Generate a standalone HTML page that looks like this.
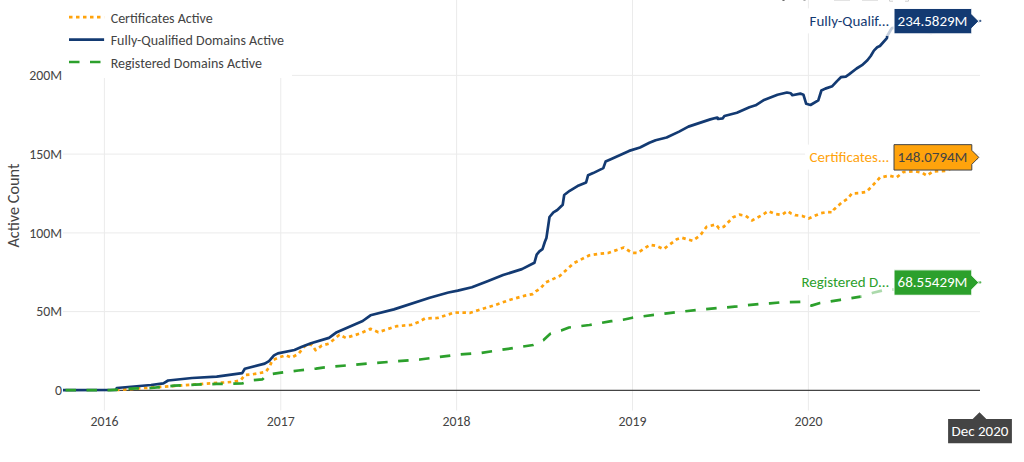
<!DOCTYPE html>
<html><head><meta charset="utf-8"><title>Active Count</title>
<style>html,body{margin:0;padding:0;background:#fff;overflow:hidden}svg{display:block}</style>
</head><body>
<svg width="1024" height="462" viewBox="0 0 1024 462">
<rect width="1024" height="462" fill="#fff"/>
<line x1="104.4" y1="0" x2="104.4" y2="410.5" stroke="#ebebeb" stroke-width="1"/>
<line x1="280.76" y1="0" x2="280.76" y2="410.5" stroke="#ebebeb" stroke-width="1"/>
<line x1="456.6" y1="0" x2="456.6" y2="410.5" stroke="#ebebeb" stroke-width="1"/>
<line x1="632.5" y1="0" x2="632.5" y2="410.5" stroke="#ebebeb" stroke-width="1"/>
<line x1="808.4" y1="0" x2="808.4" y2="410.5" stroke="#ebebeb" stroke-width="1"/>
<line x1="63" y1="311.6" x2="980" y2="311.6" stroke="#ebebeb" stroke-width="1"/>
<line x1="63" y1="232.9" x2="980" y2="232.9" stroke="#ebebeb" stroke-width="1"/>
<line x1="63" y1="154.1" x2="980" y2="154.1" stroke="#ebebeb" stroke-width="1"/>
<line x1="63" y1="75.4" x2="980" y2="75.4" stroke="#ebebeb" stroke-width="1"/>
<line x1="63" y1="390.3" x2="980" y2="390.3" stroke="#444" stroke-width="1.2"/>
<rect x="63" y="0" width="229" height="78" fill="#fff"/>
<rect x="805.5" y="8.4" width="88.5" height="25" fill="#fff"/>
<rect x="805.1" y="144.6" width="88.9" height="25" fill="#fff"/>
<rect x="797.0" y="269.9" width="97.0" height="25" fill="#fff"/>
<polyline points="116.0,390.0 119.6,389.8 144.2,388.0 164.7,386.7 192.1,384.6 233.1,381.9 240.7,380.3 244.8,375.0 251.8,374.4 258.8,373.2 265.9,371.8 269.7,366.5 272.3,360.3 278.8,357.5 285.7,355.2 291.5,357.6 298.4,353.9 302.3,349.0 307.1,343.7 312.0,345.1 315.6,350.2 321.8,345.6 329.0,343.6 339.4,334.8 345.8,337.9 360.1,333.5 370.5,328.8 378.3,332.2 396.5,326.2 410.8,325.0 418.8,321.9 425.0,318.4 437.5,318.0 454.7,312.5 470.3,312.8 478.1,310.2 493.8,305.5 509.4,300.0 525.0,295.6 532.8,294.1 536.2,291.1 540.6,288.3 545.6,282.5 548.4,281.2 560.0,275.8 562.8,273.1 573.8,263.1 589.4,255.3 598.8,253.8 608.1,253.0 623.8,247.5 632.0,252.8 637.5,253.0 650.0,244.8 656.6,245.9 663.6,249.1 676.9,239.2 681.6,237.7 692.5,240.8 700.3,235.3 706.6,226.7 715.9,224.4 719.0,228.3 723.8,226.7 733.1,217.3 739.4,214.7 745.6,215.8 751.9,220.5 762.8,214.7 768.3,211.1 774.9,213.9 781.7,214.9 787.6,211.0 791.0,213.4 795.4,215.2 802.2,215.9 808.6,218.5 814.4,215.9 820.8,213.2 827.1,212.0 833.0,212.3 834.0,209.5 836.9,206.8 841.8,202.5 847.6,198.8 852.0,193.4 858.9,193.1 866.2,192.0 870.6,187.7 880.0,177.5 889.4,175.6 896.4,177.5 903.4,172.0 914.4,171.2 922.2,172.8 926.9,175.7 932.7,171.6 945.6,170.8 979.5,157.1" fill="none" stroke="#ffa30c" stroke-width="2.7" stroke-dasharray="3.5 3.5" stroke-linejoin="round"/>
<polyline points="63.0,390.2 116.2,389.8 116.8,388.0 151.0,385.0 163.4,383.3 168.1,380.5 192.1,378.0 216.7,376.7 242.2,373.1 244.8,368.8 264.7,363.6 269.0,361.1 274.0,355.4 277.9,353.4 294.5,350.0 301.3,347.1 311.0,343.2 329.0,337.9 336.8,332.2 362.7,321.0 370.5,315.3 393.9,309.4 429.7,297.7 448.4,292.5 457.8,290.6 471.9,287.2 487.5,281.2 503.1,275.0 521.9,269.1 534.4,262.8 536.7,254.7 539.4,251.4 542.5,249.1 544.8,242.0 546.4,238.1 549.5,217.0 553.4,212.3 557.3,210.0 562.7,204.8 564.2,195.0 569.7,190.8 577.5,186.1 586.1,182.5 588.1,175.2 593.1,173.1 603.3,168.1 605.6,161.6 611.9,158.8 629.1,150.9 640.0,147.5 649.4,142.8 655.6,140.2 666.6,137.5 679.1,131.6 688.4,126.6 710.3,119.4 717.3,117.5 718.1,119.0 722.8,118.3 724.4,116.0 736.9,112.8 749.4,107.3 755.6,105.3 763.4,100.3 777.5,94.8 786.9,92.5 790.8,93.3 792.3,95.2 800.3,93.6 803.4,94.7 806.2,103.8 810.5,105.0 818.3,100.3 821.4,90.5 825.3,88.6 832.3,86.2 837.0,81.1 840.9,77.2 845.8,76.6 849.0,74.4 856.6,68.5 862.0,65.2 867.4,60.3 870.7,56.0 873.9,50.6 877.2,47.3 879.9,46.0 886.9,38.1 887.2,36.0" fill="none" stroke="#133a72" stroke-width="2.7" stroke-linejoin="round"/>
<polyline points="887.2,36.0 890.7,30.0 892.0,28.1 900.0,27.0 931.0,33.0 955.0,28.0 979.5,20.9" fill="none" stroke="#133a72" stroke-width="2.7" stroke-linejoin="round" opacity="0.25"/>
<polyline points="63.0,390.2 110.0,390.1 130.5,388.7 151.0,388.0 168.4,386.3 174.3,385.7 194.8,384.6 216.7,383.9 241.9,383.5 252.4,380.3 262.4,379.4 267.0,374.8 271.7,374.1 281.1,372.6 292.2,371.2 298.4,370.5 316.0,368.6 322.8,367.6 368.0,363.5 419.9,359.5 456.2,354.8 481.6,352.8 511.2,348.4 533.1,345.0 543.3,340.3 550.3,333.8 561.2,330.6 569.0,327.5 589.4,325.0 611.2,321.2 623.1,319.7 632.5,317.7 666.9,313.3 698.1,309.8 737.2,306.4 759.0,304.0 770.0,303.4 779.4,302.5 801.2,301.9 811.4,305.6 820.0,303.0 840.3,299.8 860.6,296.7" fill="none" stroke="#2ca02c" stroke-width="2.7" stroke-dasharray="10.5 10.5" stroke-dashoffset="-2.5" stroke-linejoin="round"/>
<polyline points="860.6,296.7 873.1,292.8 882.5,290.5 979.5,282.4" fill="none" stroke="#2ca02c" stroke-width="2.7" stroke-dasharray="10.5 10.5" stroke-dashoffset="9.31" stroke-linejoin="round" opacity="0.4"/>
<text x="104.4" y="426.1" text-anchor="middle" font-family="Carlito, 'Liberation Sans', sans-serif" font-size="13.8" fill="#444444">2016</text>
<text x="280.76" y="426.1" text-anchor="middle" font-family="Carlito, 'Liberation Sans', sans-serif" font-size="13.8" fill="#444444">2017</text>
<text x="456.6" y="426.1" text-anchor="middle" font-family="Carlito, 'Liberation Sans', sans-serif" font-size="13.8" fill="#444444">2018</text>
<text x="632.5" y="426.1" text-anchor="middle" font-family="Carlito, 'Liberation Sans', sans-serif" font-size="13.8" fill="#444444">2019</text>
<text x="808.4" y="426.1" text-anchor="middle" font-family="Carlito, 'Liberation Sans', sans-serif" font-size="13.8" fill="#444444">2020</text>
<text x="62" y="395.0" text-anchor="end" font-family="Carlito, 'Liberation Sans', sans-serif" font-size="13.8" fill="#444444">0</text>
<text x="62" y="316.3" text-anchor="end" font-family="Carlito, 'Liberation Sans', sans-serif" font-size="13.8" fill="#444444">50M</text>
<text x="62" y="237.6" text-anchor="end" font-family="Carlito, 'Liberation Sans', sans-serif" font-size="13.8" fill="#444444">100M</text>
<text x="62" y="158.8" text-anchor="end" font-family="Carlito, 'Liberation Sans', sans-serif" font-size="13.8" fill="#444444">150M</text>
<text x="62" y="80.1" text-anchor="end" font-family="Carlito, 'Liberation Sans', sans-serif" font-size="13.8" fill="#444444">200M</text>
<text transform="translate(19.3,205.6) rotate(-90)" text-anchor="middle" font-family="Carlito, 'Liberation Sans', sans-serif" font-size="16.3" fill="#444444">Active Count</text>
<line x1="69" y1="17.2" x2="104.1" y2="17.2" stroke="#ffa30c" stroke-width="2.7" stroke-dasharray="3.5 3.5"/>
<line x1="69" y1="39.6" x2="104.1" y2="39.6" stroke="#133a72" stroke-width="2.7"/>
<line x1="69" y1="62" x2="104.1" y2="62" stroke="#2ca02c" stroke-width="2.7" stroke-dasharray="10.5 10.5"/>
<text x="110.7" y="22.6" font-family="Carlito, 'Liberation Sans', sans-serif" font-size="14" fill="#444444">Certificates Active</text>
<text x="110.7" y="45.0" font-family="Carlito, 'Liberation Sans', sans-serif" font-size="14" fill="#444444">Fully-Qualified Domains Active</text>
<text x="110.7" y="67.5" font-family="Carlito, 'Liberation Sans', sans-serif" font-size="14" fill="#444444">Registered Domains Active</text>
<path d="M978.8,21.14922395000003 L971.8,14.149223950000032 V8.449223950000032 H894 V33.84922395000003 H971.8 V28.14922395000003 Z" fill="#133a72" stroke="#fff" stroke-width="1"/>
<text x="897.6" y="25.9" font-family="Carlito, 'Liberation Sans', sans-serif" font-size="15" fill="#fff">234.5829M</text>
<text x="889.3" y="25.9" text-anchor="end" font-family="Carlito, 'Liberation Sans', sans-serif" font-size="15" fill="#133a72">Fully-Qualif...</text>
<path d="M978.8,157.34898470000002 L971.8,150.34898470000002 V144.64898470000003 H894 V170.0489847 H971.8 V164.34898470000002 Z" fill="#ffa30c" stroke="#444" stroke-width="1"/>
<text x="897.6" y="162.1" font-family="Carlito, 'Liberation Sans', sans-serif" font-size="15" fill="#444">148.0794M</text>
<text x="889.3" y="162.1" text-anchor="end" font-family="Carlito, 'Liberation Sans', sans-serif" font-size="15" fill="#ffa30c">Certificates...</text>
<path d="M978.8,282.561270395 L971.8,275.561270395 V269.861270395 H894 V295.261270395 H971.8 V289.561270395 Z" fill="#2ca02c" stroke="#fff" stroke-width="1"/>
<text x="897.6" y="287.4" font-family="Carlito, 'Liberation Sans', sans-serif" font-size="15" fill="#fff">68.55429M</text>
<text x="889.3" y="287.4" text-anchor="end" font-family="Carlito, 'Liberation Sans', sans-serif" font-size="15" fill="#2ca02c">Registered D...</text>
<circle cx="980.3" cy="20.9" r="1.1" fill="#133a72" opacity="0.8"/>
<circle cx="980.3" cy="282.4" r="1.1" fill="#2ca02c" opacity="0.8"/>
<path d="M979.5,412.2 L986.3,418.9 H1011.9 V443.3 H948.1 V418.9 H972.7 Z" fill="#444"/>
<text x="980" y="435.9" text-anchor="middle" font-family="Carlito, 'Liberation Sans', sans-serif" font-size="15" fill="#fff">Dec 2020</text>
<circle cx="783.5" cy="-0.3" r="1.4" fill="#666"/>
<circle cx="804.5" cy="-0.3" r="1.4" fill="#aaa"/>
<rect x="834" y="-1" width="16" height="1.6" fill="#d0d0d0"/>
<rect x="862" y="-1" width="16" height="1.6" fill="#d0d0d0"/>
<path d="M889.5,-1 V1.2 H893 M908.5,-1 V1.2 H905" fill="none" stroke="#d0d0d0" stroke-width="1"/>
</svg>
</body></html>
